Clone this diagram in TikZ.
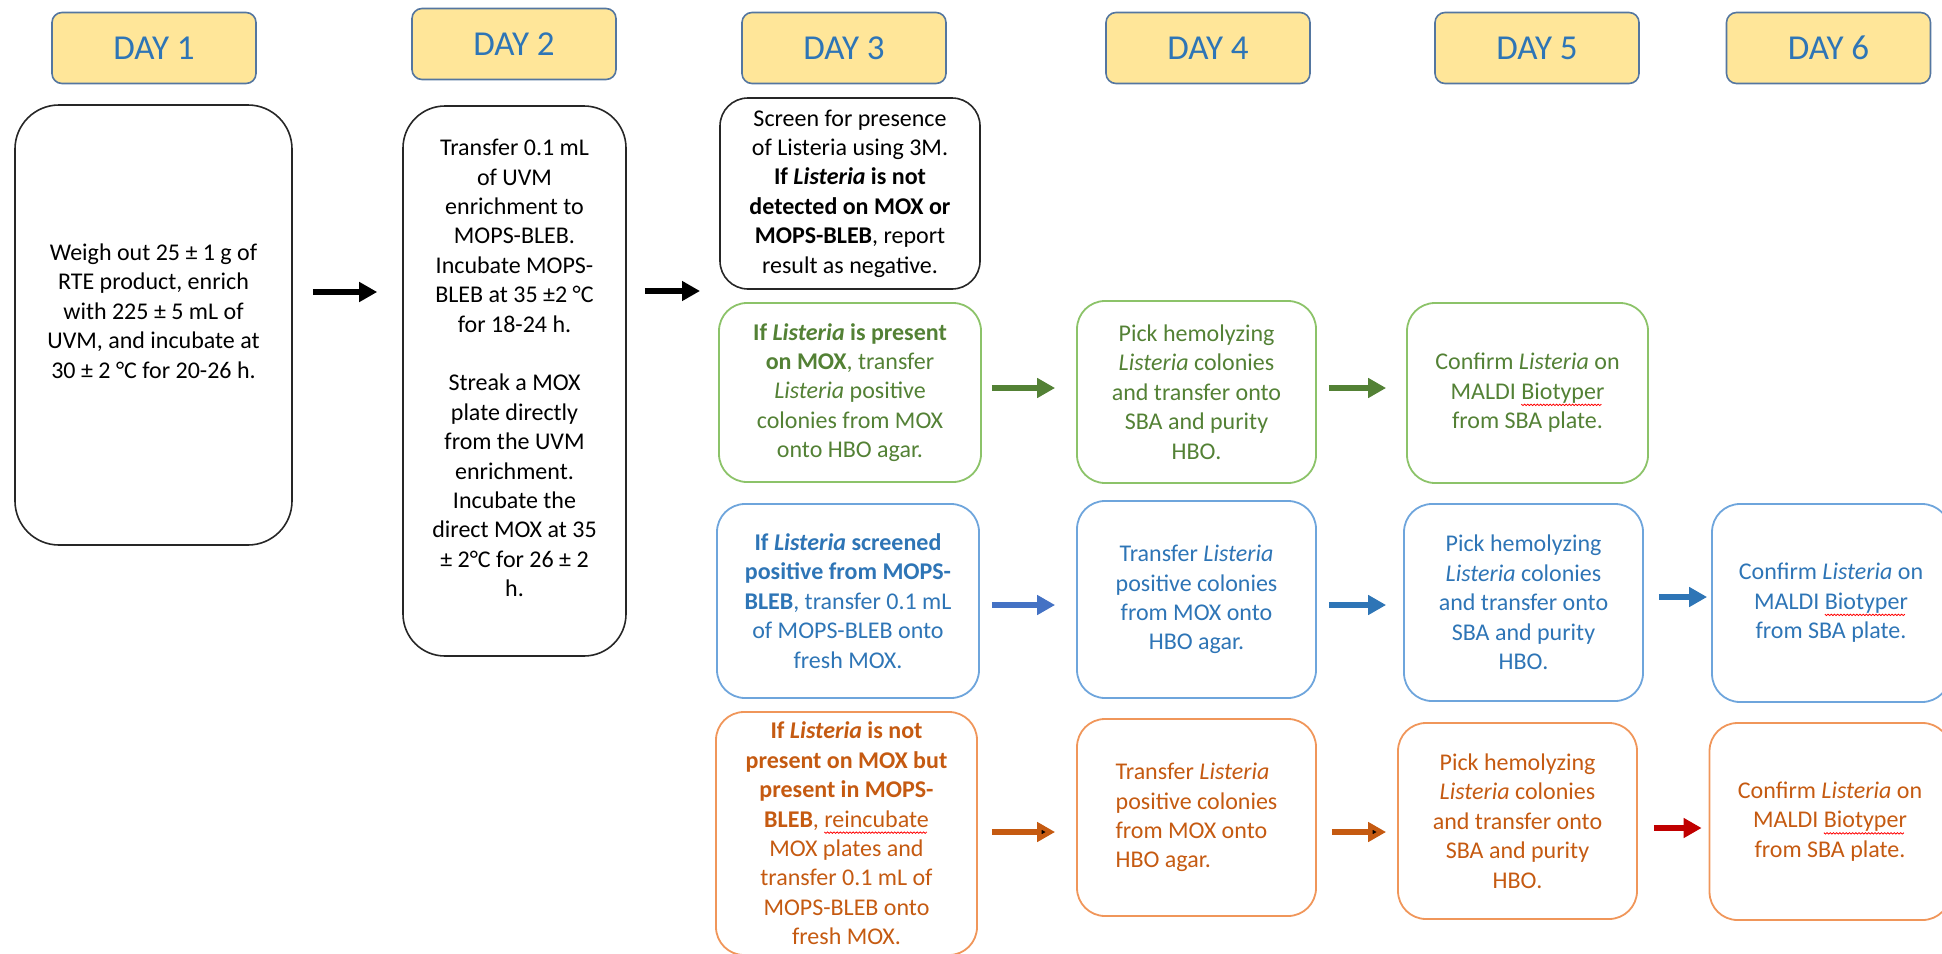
\documentclass[tikz,border=0pt]{standalone}
\usepackage{fontspec}
\setmainfont{Carlito}
\usepackage{xcolor}
\definecolor{DayBlue}{RGB}{46,117,182}
\definecolor{DayFill}{RGB}{255,230,153}
\definecolor{DayEdge}{RGB}{84,118,160}
\definecolor{LisGreen}{RGB}{83,129,53}
\definecolor{LisGreenEdge}{RGB}{140,195,105}
\definecolor{LisBlue}{RGB}{46,117,182}
\definecolor{LisBlueEdge}{RGB}{110,165,220}
\definecolor{LisArrBlue}{RGB}{68,114,196}
\definecolor{LisOrange}{RGB}{197,90,17}
\definecolor{LisOrangeEdge}{RGB}{240,150,90}
\definecolor{LisRed}{RGB}{192,0,0}
\usepackage{tikz}
\usetikzlibrary{arrows.meta,calc}

% red spell-check squiggle under a word
\newsavebox\wavebox
\newcommand\spellwave[1]{\sbox\wavebox{#1}\leavevmode\rlap{\tikz[baseline=0pt,overlay]{\pgfmathtruncatemacro\nwave{\wd\wavebox/1.6}\draw[red, line width=0.4pt, sharp corners] (0pt,-2.4pt) \foreach \i in {1,...,\nwave}{ -- ++(0.8pt,-0.7pt) -- ++(0.8pt,0.7pt)};}}\usebox\wavebox}

\begin{document}
\begin{tikzpicture}[x=0.5pt, y=-0.5pt, >=Stealth, font=\fontsize{12}{14.7}\selectfont]
\tikzstyle{dayhd}=[draw=DayEdge, fill=DayFill, rounded corners=5pt, line width=0.8pt, minimum width=102pt, minimum height=35.5pt, text=DayBlue, font=\fontsize{17.5}{21}\selectfont]
\tikzstyle{blkK}=[draw=black!85, rounded corners=14pt, line width=0.8pt, align=center, inner sep=0pt]
\tikzstyle{blkG}=[draw=LisGreenEdge, text=LisGreen, rounded corners=14pt, line width=0.9pt, align=center, inner sep=0pt]
\tikzstyle{blkB}=[draw=LisBlueEdge, text=LisBlue, rounded corners=14pt, line width=0.9pt, align=center, inner sep=0pt]
\tikzstyle{blkO}=[draw=LisOrangeEdge, text=LisOrange, rounded corners=14pt, line width=0.9pt, align=center, inner sep=0pt]
\tikzstyle{arr}=[-{Triangle[length=9pt,width=9.5pt]}, line width=3pt]

\path[use as bounding box] (0,0) rectangle (1942,953);
\clip (0,0) rectangle (1942,953);

% day headers
\node[dayhd] (d1) at (154,48) {DAY 1};
\node[dayhd] (d2) at (514,44) {DAY 2};
\node[dayhd] (d3) at (844,48) {DAY 3};
\node[dayhd] (d4) at (1208,48) {DAY 4};
\node[dayhd] (d5) at (1537,48) {DAY 5};
\node[dayhd] (d6) at (1828.5,48) {DAY 6};

% enrichment
\node[blkK, rounded corners=22pt, minimum width=138.5pt, minimum height=220pt] (w1) at (153.5,325) {};
\node[align=center] (w1t) at (153.5,311) {Weigh out 25 ± 1 g of\\RTE product, enrich\\with 225 ± 5 mL of\\UVM, and incubate at\\30 ± 2 °C for 20-26 h.};
\node[blkK, rounded corners=21pt, minimum width=111.5pt, minimum height=275pt] (w2) at (514.5,381) {};
\node[align=center] (w2t) at (514.5,368) {Transfer 0.1 mL\\of UVM\\enrichment to\\MOPS-BLEB.\\Incubate MOPS-\\BLEB at 35 ±2 °C\\for 18-24 h.\\[14.7pt]Streak a MOX\\plate directly\\from the UVM\\enrichment.\\Incubate the\\direct MOX at 35\\± 2°C for 26 ± 2\\h.};
\node[blkK, minimum width=130pt, minimum height=95.5pt] (s3) at (850,193.5) {Screen for presence\\of Listeria using 3M.\\\textbf{If \textit{Listeria} is not}\\\textbf{detected on MOX or}\\\textbf{MOPS-BLEB}, report\\result as negative.};

% present on MOX
\node[blkG, minimum width=131pt, minimum height=89.5pt] (g3) at (850,392.5) {\textbf{If \textit{Listeria} is present}\\\textbf{on MOX}, transfer\\\textit{Listeria} positive\\colonies from MOX\\onto HBO agar.};
\node[blkG, minimum width=119.5pt, minimum height=91pt] (g4) at (1196.5,392) {Pick hemolyzing\\\textit{Listeria} colonies\\and transfer onto\\SBA and purity\\HBO.};
\node[blkG, minimum width=120.5pt, minimum height=90pt] (g5) at (1527.5,393) {Confirm \textit{Listeria} on\\MALDI \spellwave{Biotyper}\\from SBA plate.};

% screened positive from MOPS-BLEB
\node[blkB, minimum width=131pt, minimum height=97pt] (b3) at (848,601) {\textbf{If \textit{Listeria} screened}\\\textbf{positive from MOPS-}\\\textbf{BLEB}, transfer 0.1 mL\\of MOPS-BLEB onto\\fresh MOX.};
\node[blkB, minimum width=119.5pt, minimum height=98.5pt] (b4) at (1196.5,599.5) {Transfer \textit{Listeria}\\positive colonies\\from MOX onto\\HBO agar.};
\node[blkB, minimum width=119.5pt, minimum height=98.5pt] (b5) at (1523.5,602.5) {Pick hemolyzing\\\textit{Listeria} colonies\\and transfer onto\\SBA and purity\\HBO.};
\node[blkB, minimum width=119pt, minimum height=99pt] (b6) at (1831,603) {Confirm \textit{Listeria} on\\MALDI \spellwave{Biotyper}\\from SBA plate.};

% present in MOPS-BLEB only
\node[blkO, minimum width=130.5pt, minimum height=121.5pt] (o3) at (846.5,833.5) {\textbf{If \textit{Listeria} is not}\\\textbf{present on MOX but}\\\textbf{present in MOPS-}\\\textbf{BLEB}, \spellwave{reincubate}\\MOX plates and\\transfer 0.1 mL of\\MOPS-BLEB onto\\fresh MOX.};
\node[blkO, align=left, minimum width=119.5pt, minimum height=98.5pt] (o4) at (1196.5,817.5) {Transfer \textit{Listeria}\\positive colonies\\from MOX onto\\HBO agar.};
\node[blkO, minimum width=119.5pt, minimum height=98pt] (o5) at (1517.5,821) {Pick hemolyzing\\\textit{Listeria} colonies\\and transfer onto\\SBA and purity\\HBO.};
\node[blkO, minimum width=120.5pt, minimum height=98.5pt] (o6) at (1830,821.5) {Confirm \textit{Listeria} on\\MALDI \spellwave{Biotyper}\\from SBA plate.};

\coordinate (rowK) at (0,292);
\coordinate (split) at (720,291);
\coordinate (rowG) at (0,388);
\coordinate (rowB) at (0,605);
\coordinate (rowB6) at (0,597);
\coordinate (rowO) at (0,832);
\coordinate (rowR) at (0,828);

\draw[arr, draw=black, shorten <=10pt, shorten >=12.5pt] (w1.east |- rowK) -- (w2.west |- rowK);
\draw[arr, draw=black, shorten <=9pt, shorten >=10pt] (w2.east |- split) -- (split);
\draw[arr, draw=LisGreen, shorten <=5pt, shorten >=10.5pt] (g3.east |- rowG) -- (g4.west |- rowG);
\draw[arr, draw=LisGreen, shorten <=6pt, shorten >=10pt] (g4.east |- rowG) -- (g5.west |- rowG);
\draw[arr, draw=LisArrBlue, shorten <=6pt, shorten >=10.5pt] (b3.east |- rowB) -- (b4.west |- rowB);
\draw[arr, draw=LisBlue, shorten <=6pt, shorten >=8.5pt] (b4.east |- rowB) -- (b5.west |- rowB);
\draw[arr, draw=LisBlue, shorten <=7.5pt, shorten >=2pt] (b5.east |- rowB6) -- (b6.west |- rowB6);
\draw[arr, draw=LisOrange, shorten <=7pt, shorten >=10.5pt] (o3.east |- rowO) -- (o4.west |- rowO);
\draw[arr, draw=LisOrange, shorten <=7.5pt, shorten >=5.5pt] (o4.east |- rowO) -- (o5.west |- rowO);
\draw[arr, draw=LisRed, shorten <=8pt, shorten >=3.5pt] (o5.east |- rowR) -- (o6.west |- rowR);
\end{tikzpicture}
\end{document}
